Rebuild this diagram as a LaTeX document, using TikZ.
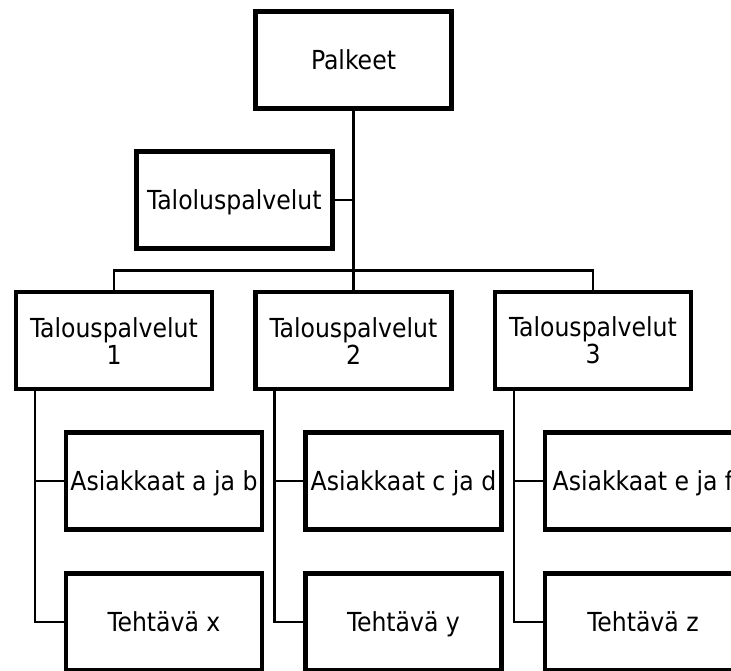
\documentclass[tikz,border=0pt]{standalone}
\usepackage{fontspec}
\setmainfont{DejaVu Sans Condensed}
\usetikzlibrary{calc,backgrounds}
\tikzset{
  unitbox/.style={draw=black, line width=4.2pt, fill=white, outer sep=0pt,
    minimum width=196pt, minimum height=97pt, inner sep=0pt,
    font=\fontsize{26.2}{27}\selectfont},
  oneline/.style={unitbox, text height=18.5pt, text depth=0pt},
  twoline/.style={unitbox, align=center},
  link/.style={draw=black, line width=2.8pt}
}
\begin{document}
\begin{tikzpicture}[x=1pt, y=-1pt]
  \useasboundingbox (0,0) rectangle (731,670);
  \clip (0,0) rectangle (731,670);

  % junction point of the tree trunk and the crossbar
  \coordinate (hub) at (353.5,270.7);

  \node[oneline] (p) at (353.5,60) {Palkeet};
  \node[oneline] (t) at (234.4,200) {Taloluspalvelut};

  \node[twoline] (c1) at (114,340.6) {Talouspalvelut\\1};
  \node[twoline] (c2) at (353.5,340.6) {Talouspalvelut\\2};
  \node[twoline] (c3) at (593,340.6) {Talouspalvelut\\3};

  \node[oneline] (a1) at (164,481) {Asiakkaat a ja b};
  \node[oneline] (a2) at (403.5,481) {Asiakkaat c ja d};
  \node[oneline] (a3) at (643,481) {Asiakkaat e ja f};

  \node[oneline] (w1) at (164,622) {Tehtävä x};
  \node[oneline] (w2) at (403.5,622) {Tehtävä y};
  \node[oneline] (w3) at (643,622) {Tehtävä z};

  % connectors sit behind the boxes
  \begin{scope}[on background layer]
    \path[link] (p.south) -- (hub);
    \path[link] (t.east) -- (t.east -| hub);
    \path[link] (c1.north) |- (hub) -| (c3.north);
    \path[link] (c2.north) -- (c2.north |- hub);
    \foreach \i in {1,2,3} {
      \coordinate (j\i) at ($(c\i.south west)+(19,0)$);
      \path[link] (j\i) |- (a\i.west);
      \path[link] (j\i) |- (w\i.west);
    }
  \end{scope}
\end{tikzpicture}
\end{document}
